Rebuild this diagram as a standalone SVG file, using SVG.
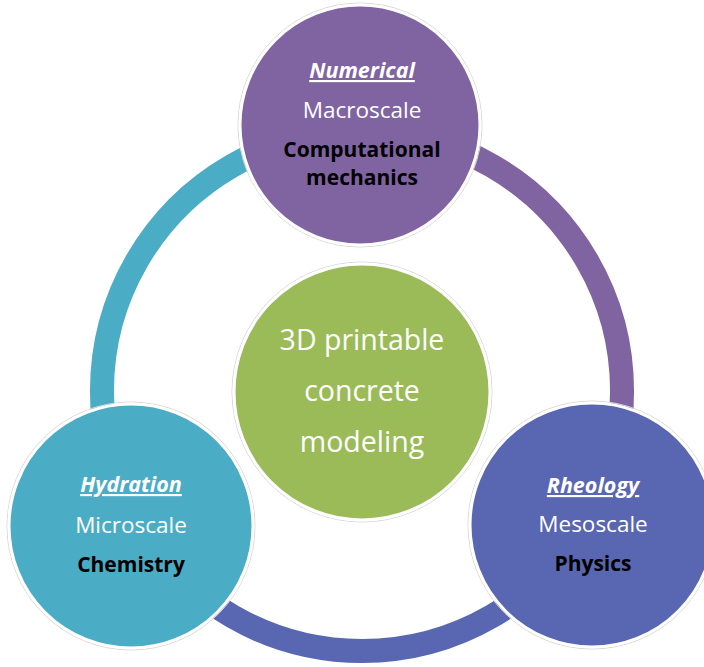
<svg xmlns="http://www.w3.org/2000/svg" width="704" height="667" viewBox="0 0 704 667">
  <style>
    .ring { fill: none; stroke-width: 24; }
    .node { stroke: #ffffff; stroke-width: 3; }
    .halo { fill: none; stroke: #d9d9d9; stroke-width: 1; }
    text { font-family: "Open Sans", Lato, sans-serif; text-anchor: middle; }
    .title { font-size: 21.5px; font-weight: bold; font-style: italic; fill: #ffffff; text-decoration: underline; }
    .scale { font-size: 22.5px; fill: #ffffff; }
    .field { font-size: 21px; font-weight: bold; fill: #000000; }
    .core { font-size: 28.5px; fill: #ffffff; }
  </style>
  <rect width="704" height="667" fill="#ffffff"/>

  <!-- cycle ring, one arc per segment -->
  <g id="connectors">
    <path class="ring" stroke="#4BACC6" d="M 136.8 521 A 260 260 0 0 1 362 131"/>
    <path class="ring" stroke="#8064A2" d="M 362 131 A 260 260 0 0 1 587.2 521"/>
    <path class="ring" stroke="#5966B1" d="M 587.2 521 A 260 260 0 0 1 136.8 521"/>
  </g>

  <!-- central hub -->
  <g id="core">
    <circle class="halo" cx="362" cy="392" r="130"/>
    <circle class="node" cx="362" cy="392" r="128" fill="#9BBB59"/>
    <text class="core" x="362" y="350">3D printable</text>
    <text class="core" x="362" y="401">concrete</text>
    <text class="core" x="362" y="452">modeling</text>
  </g>

  <g id="numerical">
    <circle class="halo" cx="360" cy="125" r="122"/>
    <circle class="node" cx="360" cy="125" r="120" fill="#8064A2"/>
    <text class="title" x="362" y="78">Numerical</text>
    <text class="scale" x="362" y="118">Macroscale</text>
    <text class="field" x="362" y="157">Computational</text>
    <text class="field" x="362" y="185">mechanics</text>
  </g>

  <g id="hydration">
    <circle class="halo" cx="131" cy="526" r="124"/>
    <circle class="node" cx="131" cy="526" r="122" fill="#4BACC6"/>
    <text class="title" x="131" y="492">Hydration</text>
    <text class="scale" x="131" y="533">Microscale</text>
    <text class="field" x="131" y="572">Chemistry</text>
  </g>

  <g id="rheology">
    <circle class="halo" cx="592" cy="525" r="124"/>
    <circle class="node" cx="592" cy="525" r="122" fill="#5966B1"/>
    <text class="title" x="593" y="493">Rheology</text>
    <text class="scale" x="593" y="532">Mesoscale</text>
    <text class="field" x="593" y="571">Physics</text>
  </g>
</svg>
